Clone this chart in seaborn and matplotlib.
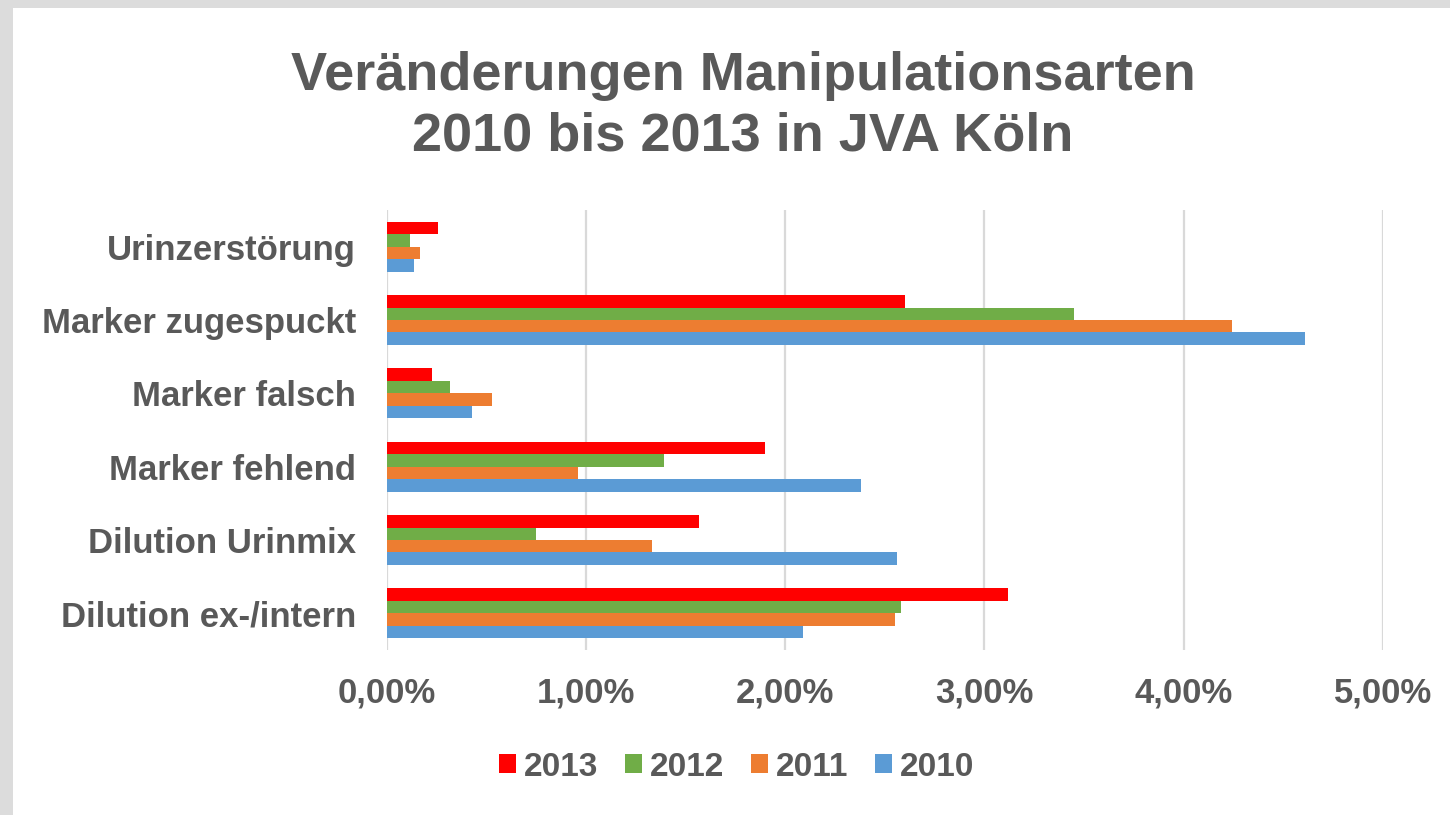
import pandas as pd
import matplotlib
matplotlib.use("Agg")
import matplotlib.pyplot as plt
from matplotlib.patches import Rectangle
from matplotlib.ticker import FuncFormatter, MultipleLocator
import seaborn as sns

# Daten (Prozent)
kategorien = ["Urinzerstörung", "Marker zugespuckt", "Marker falsch",
              "Marker fehlend", "Dilution Urinmix", "Dilution ex-/intern"]
jahre = ["2013", "2012", "2011", "2010"]
werte_2013 = [0.26, 2.60, 0.23, 1.90, 1.57, 3.12]
werte_2012 = [0.12, 3.45, 0.32, 1.39, 0.75, 2.58]
werte_2011 = [0.17, 4.24, 0.53, 0.96, 1.33, 2.55]
werte_2010 = [0.14, 4.61, 0.43, 2.38, 2.56, 2.09]
farben = ["#FF0000", "#70AD47", "#ED7D31", "#5B9BD5"]

df = pd.DataFrame({
    "kategorie": kategorien * 4,
    "jahr": [j for j in jahre for _ in kategorien],
    "wert": werte_2013 + werte_2012 + werte_2011 + werte_2010,
})

sns.set_theme(style="white")
plt.rcParams["font.family"] = ["Liberation Sans", "DejaVu Sans"]
text_farbe = "#595959"

fig = plt.figure(figsize=(14.5, 8.15), dpi=100, facecolor="#DCDCDC")
# weisse Folienflaeche mit grauem Rand oben/links
fig.patches.append(Rectangle((13 / 1450, 0), 1, 807 / 815, transform=fig.transFigure,
                             facecolor="white", edgecolor="none", zorder=-10))

ax = fig.add_axes([386.5 / 1450, 1 - 650 / 815, (1383 - 386.5) / 1450, 440 / 815])
ax.set_facecolor("none")
ax.set_zorder(5)

sns.barplot(data=df, x="wert", y="kategorie", hue="jahr", hue_order=jahre,
            order=kategorien, palette=farben, saturation=1, orient="h", width=0.68,
            linewidth=0, ax=ax)

ax.set_xlim(0, 5)
ax.set_ylim(5.5, -0.5)
ax.xaxis.set_major_locator(MultipleLocator(1))
ax.xaxis.set_major_formatter(FuncFormatter(lambda v, p: f"{v:.2f}%".replace(".", ",")))
ax.grid(axis="x", color="#D9D9D9", linewidth=1.6)
ax.grid(axis="y", visible=False)
ax.set_axisbelow(True)
for s in ax.spines.values():
    s.set_visible(False)
ax.set_xlabel("")
ax.set_ylabel("")
ax.tick_params(axis="x", length=0, pad=19, labelsize=25, labelcolor=text_farbe)
ax.tick_params(axis="y", length=0, pad=22, labelsize=25, labelcolor=text_farbe)
for t in ax.get_xticklabels() + ax.get_yticklabels():
    t.set_fontweight("bold")

ax.legend_.remove()
handles = [Rectangle((0, 0), 1, 1, facecolor=c, edgecolor="none") for c in farben]
leg = fig.legend(handles, jahre, loc="center", bbox_to_anchor=(737 / 1450, 1 - 767 / 815),
                 ncol=4, frameon=False, fontsize=24, handlelength=0.5, handleheight=0.5,
                 handletextpad=0.25, columnspacing=0.8)
for t in leg.get_texts():
    t.set_color(text_farbe)
    t.set_fontweight("bold")

fig.text(743 / 1450, 1 - 106 / 815, "Veränderungen Manipulationsarten\n2010 bis 2013 in JVA Köln",
         ha="center", va="center", fontsize=39, fontweight="bold", color=text_farbe,
         linespacing=1.28)

fig.savefig("out.png", dpi=100, facecolor=fig.get_facecolor())
